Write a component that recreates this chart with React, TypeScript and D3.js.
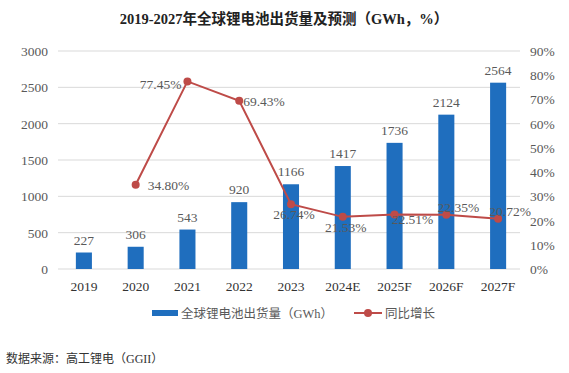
import React from "react";
import * as d3 from "d3";

const years = ["2019", "2020", "2021", "2022", "2023", "2024E", "2025F", "2026F", "2027F"];
const shipments = [227, 306, 543, 920, 1166, 1417, 1736, 2124, 2564];
const growth: (number | null)[] = [null, 34.8, 77.45, 69.43, 26.74, 21.53, 22.51, 22.35, 20.72];
const leftTicks = [0, 500, 1000, 1500, 2000, 2500, 3000];
const rightTicks = [0, 10, 20, 30, 40, 50, 60, 70, 80, 90];
// where each growth label sits relative to its point
const labelPlace = ["", "farRight", "left", "right", "below", "below", "rightDown", "rightUp", "rightUp"];

const W = 569;
const H = 373;
const margin = { top: 51, right: 45, bottom: 104, left: 58 };

const serif = "'Liberation Serif', 'Times New Roman', 'Noto Sans CJK SC', serif";
const textColor = "#595959";
const barColor = "#1F6EBE";
const lineColor = "#BE4B48";

export default function App() {
  const x = d3
    .scaleBand()
    .domain(years)
    .range([margin.left, W - margin.right])
    .paddingInner(0.69)
    .paddingOuter(0.345);
  const yL = d3.scaleLinear().domain([0, 3000]).range([H - margin.bottom, margin.top]);
  const yR = d3.scaleLinear().domain([0, 90]).range([H - margin.bottom, margin.top]);
  const cx = (y: string) => (x(y) ?? 0) + x.bandwidth() / 2;

  const pts = years
    .map((y, i) => ({ y, v: growth[i], place: labelPlace[i] }))
    .filter((d) => d.v !== null) as { y: string; v: number; place: string }[];

  const line = d3
    .line<{ y: string; v: number }>()
    .x((d) => cx(d.y))
    .y((d) => yR(d.v));

  const labelPos = (d: { y: string; v: number; place: string }) => {
    const px = cx(d.y);
    const py = yR(d.v);
    switch (d.place) {
      case "farRight":
        return { x: px + 12, y: py + 5, anchor: "start" };
      case "right":
        return { x: px + 4, y: py + 5, anchor: "start" };
      case "left":
        return { x: px - 6, y: py + 8, anchor: "end" };
      case "below":
        return { x: px + 3, y: py + 15, anchor: "middle" };
      case "rightDown":
        return { x: px + 18, y: py + 10, anchor: "middle" };
      default:
        return { x: px + 12, y: py - 3, anchor: "middle" };
    }
  };

  return (
    <svg width={W} height={H} style={{ position: "absolute", left: 0, top: 0 }}>
      <rect width={W} height={H} fill="#fff" />
      <text x={284} y={24} textAnchor="middle" fontFamily={serif} fontWeight="bold" fontSize={14.5} fill="#222">
        2019-2027年全球锂电池出货量及预测（GWh，%）
      </text>

      {leftTicks.map((t) => (
        <g key={t}>
          <line x1={margin.left} x2={W - margin.right - 4} y1={yL(t)} y2={yL(t)} stroke="#d9d9d9" strokeWidth={1} />
          <text x={48} y={yL(t) + 5} textAnchor="end" fontFamily={serif} fontSize={13.5} fill={textColor}>
            {t}
          </text>
        </g>
      ))}
      {rightTicks.map((t) => (
        <text key={t} x={530} y={yR(t) + 5} textAnchor="start" fontFamily={serif} fontSize={13.5} fill={textColor}>
          {t}%
        </text>
      ))}

      {years.map((y, i) => (
        <g key={y}>
          <rect x={x(y)} y={yL(shipments[i])} width={x.bandwidth()} height={yL(0) - yL(shipments[i])} fill={barColor} />
          <text x={cx(y)} y={yL(shipments[i]) - 8} textAnchor="middle" fontFamily={serif} fontSize={13.5} fill={textColor}>
            {shipments[i]}
          </text>
          <text x={cx(y)} y={yL(0) + 22} textAnchor="middle" fontFamily={serif} fontSize={13.5} fill="#333">
            {y}
          </text>
        </g>
      ))}

      <path d={line(pts) ?? ""} fill="none" stroke={lineColor} strokeWidth={2} />
      {pts.map((d) => {
        const p = labelPos(d);
        return (
          <g key={d.y}>
            <circle cx={cx(d.y)} cy={yR(d.v)} r={4} fill={lineColor} />
            <text x={p.x} y={p.y} textAnchor={p.anchor} fontFamily={serif} fontSize={13.5} fill={textColor}>
              {d.v.toFixed(2)}%
            </text>
          </g>
        );
      })}

      <rect x={152} y={310} width={26} height={6} fill={barColor} />
      <text x={181} y={318} fontFamily={serif} fontSize={12.5} fill={textColor}>
        全球锂电池出货量（GWh）
      </text>
      <line x1={354} x2={382} y1={313} y2={313} stroke={lineColor} strokeWidth={2} />
      <circle cx={368} cy={313} r={4} fill={lineColor} />
      <text x={385} y={318} fontFamily={serif} fontSize={12.5} fill={textColor}>
        同比增长
      </text>

      <text x={6} y={363} fontFamily={serif} fontSize={12} fill="#333">
        数据来源：高工锂电（GGII）
      </text>
    </svg>
  );
}
